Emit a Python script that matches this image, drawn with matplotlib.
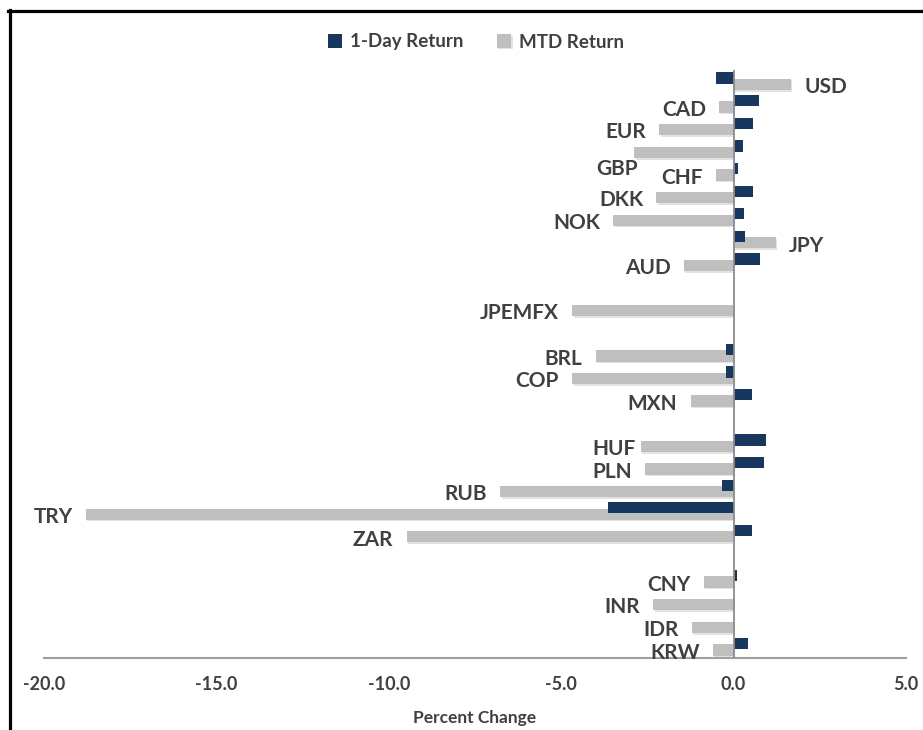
import matplotlib
matplotlib.use('Agg')
import matplotlib.pyplot as plt
import matplotlib.patheffects as pe
from matplotlib.lines import Line2D
import numpy as np

# currencies top to bottom, '' = blank spacer row
currencies = ['USD', 'CAD', 'EUR', 'GBP', 'CHF', 'DKK', 'NOK', 'JPY', 'AUD', '',
              'JPEMFX', '',
              'BRL', 'COP', 'MXN', '',
              'HUF', 'PLN', 'RUB', 'TRY', 'ZAR', '',
              'CNY', 'INR', 'IDR', 'KRW']
day_return = [-0.52, 0.73, 0.55, 0.27, 0.12, 0.55, 0.29, 0.34, 0.76, np.nan,
              0.0, np.nan,
              -0.23, -0.23, 0.52, np.nan,
              0.93, 0.87, -0.35, -3.63, 0.52, np.nan,
              0.09, 0.0, 0.0, 0.41]
mtd_return = [1.66, -0.41, -2.15, -2.88, -0.52, -2.24, -3.49, 1.22, -1.45, np.nan,
              -4.68, np.nan,
              -4.0, -4.68, -1.25, np.nan,
              -2.70, -2.56, -6.77, -18.78, -9.48, np.nan,
              -0.87, -2.33, -1.22, -0.60]

dark = '#17375E'
grey = '#BFBFBF'
txt = '#404040'

plt.rcParams['font.family'] = ['Lato', 'DejaVu Sans']
plt.rcParams['font.weight'] = 'bold'

fig = plt.figure(figsize=(9.23, 7.3), dpi=100)
ax = fig.add_axes([44 / 923, 72 / 730, 862 / 923, 588 / 730])

y = np.arange(len(currencies))
h = 0.5
off = 0.14
shadow = [pe.SimplePatchShadow(offset=(1, -1.2), shadow_rgbFace='#a0a0a0', alpha=0.3), pe.Normal()]
ax.barh(y + off, mtd_return, height=h, color=grey, zorder=2, path_effects=shadow, label='MTD Return')
ax.barh(y - off, day_return, height=h, color=dark, zorder=3, label='1-Day Return')

ax.axvline(0, color='#8c8c8c', lw=1.3, zorder=4)

# data labels next to the MTD bar end
nudge = {'GBP': (12, -10), 'HUF': (6, 0)}
for i, name in enumerate(currencies):
    if not name:
        continue
    v = mtd_return[i]
    dx = 9.5 if v > 0 else -9.5
    ddx, ddy = nudge.get(name, (0, 0))
    ax.annotate(name, (v, y[i] + off), xytext=(dx + ddx, ddy - 2), textcoords='offset points',
                ha='left' if v > 0 else 'right', va='center',
                fontsize=15, fontweight='bold', color=txt, zorder=5)

ax.set_xlim(-20, 5)
ax.set_ylim(len(currencies) - 0.5, -0.5)
ax.set_xticks([-20, -15, -10, -5, 0, 5])
ax.set_xticklabels(['%.1f' % t for t in [-20, -15, -10, -5, 0, 5]])
ax.set_yticks([])
ax.tick_params(axis='x', length=0, pad=13, labelsize=13, labelcolor=txt)
for s in ['top', 'right', 'left']:
    ax.spines[s].set_visible(False)
ax.spines['bottom'].set_color('#a0a0a0')
ax.spines['bottom'].set_linewidth(1.5)
ax.set_xlabel('Percent Change', fontsize=12.5, fontweight='bold', color=txt, labelpad=12)

handles, labels = ax.get_legend_handles_labels()
fig.legend(handles[::-1], labels[::-1], loc='center', bbox_to_anchor=(476 / 923, 1 - 42 / 730),
           ncol=2, frameon=False, fontsize=13.5, handlelength=0.75, handleheight=0.75,
           handletextpad=0.4, columnspacing=1.8, labelcolor=txt)

# black frame (only left and top edges show)
fig.add_artist(Line2D([9.5 / 923, 9.5 / 923], [0, 1 - 9.5 / 730], color='black', lw=2.3))
fig.add_artist(Line2D([8 / 923, 1], [1 - 10.5 / 730, 1 - 10.5 / 730], color='black', lw=2.3))

fig.savefig('out.png', dpi=100)
